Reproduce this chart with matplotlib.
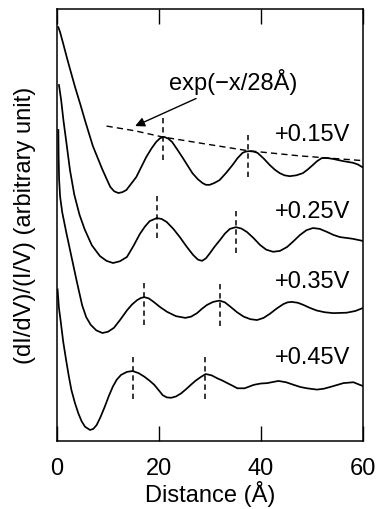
import numpy as np
import matplotlib.pyplot as plt

plt.rcParams['font.family'] = ['Liberation Sans', 'DejaVu Sans']

# distance (Angstrom) and normalized conductance (arbitrary units, offset per bias)
x_015 = [0.24, 0.6, 1.06, 1.6, 2.09, 2.8, 3.51, 4.54, 5.58, 7.01, 8.83, 9.7, 10.44,
         11.2, 12.02, 12.8, 13.59, 15.53, 17.47, 18.5, 19.41, 20.2, 20.98, 21.8, 22.57,
         23.5, 24.56, 26.54, 27.6, 28.53, 29.2, 29.91, 30.8, 31.87, 33.1, 34.41, 35.4,
         36.37, 37.0, 37.74, 38.5, 39.31, 40.5, 41.69, 42.7, 43.66, 44.6, 45.63, 46.9,
         48.19, 49.2, 50.16, 51.0, 51.92, 53.0, 54.09, 56.06, 58.03, 59.0, 60.0]
y_015 = [95.8, 94.6, 92.6, 90.2, 88.0, 85.0, 82.0, 78.0, 73.8, 68.3, 63.0, 60.7, 58.8,
         57.8, 57.4, 57.6, 58.1, 61.1, 65.7, 67.7, 69.2, 70.1, 70.4, 70.0, 69.2,
         67.6, 65.7, 62.0, 60.6, 59.7, 59.3, 59.3, 59.7, 60.4, 62.0, 63.9, 65.5,
         66.7, 67.0, 67.1, 67.0, 66.7, 65.4, 63.9, 62.8, 62.0, 61.5, 61.3, 61.5,
         62.0, 62.9, 63.9, 64.8, 65.5, 65.5, 65.3, 64.8, 64.4, 64.0, 63.3]

x_025 = [0.37, 0.80, 1.24, 1.89, 2.53, 3.38, 4.39, 5.41, 6.82, 8.41, 9.7, 10.97, 12.3,
         13.70, 15.0, 16.22, 17.2, 18.16, 19.53, 20.5, 21.49, 22.8, 24.07, 25.4, 26.65,
         27.6, 28.43, 29.2, 29.98, 30.9, 31.93, 32.9, 33.88, 35.05, 36.1, 37.21, 38.5,
         39.78, 41.0, 42.35, 43.7, 45.09, 46.4, 47.64, 48.9, 50.18, 51.5, 52.92, 54.2,
         55.48, 56.8, 58.02, 60.0]
y_025 = [82.4, 78.9, 74.3, 68.5, 62.7, 57.0, 52.4, 49.0, 45.3, 42.8, 41.7, 41.2, 41.6,
         42.6, 45.2, 47.9, 49.6, 50.9, 51.6, 51.4, 50.7, 49.1, 47.2, 45.0, 43.1,
         42.0, 41.7, 42.3, 43.5, 45.0, 46.5, 48.0, 49.1, 49.5, 49.2, 48.4, 47.0,
         45.4, 44.3, 43.8, 44.0, 44.9, 46.3, 47.7, 48.8, 49.3, 49.1, 48.4, 47.7,
         47.2, 47.0, 46.8, 46.3]

x_035 = [0.25, 0.30, 0.40, 0.6, 1.0, 1.8, 2.49, 3.16, 3.89, 4.92, 5.7, 6.59, 7.7, 8.89,
         10.0, 11.15, 12.4, 13.74, 14.7, 15.68, 16.4, 17.10, 18.0, 18.94, 20.2, 21.57,
         23.3, 25.16, 26.3, 27.45, 28.4, 29.40, 30.6, 31.86, 32.9, 33.97, 35.3, 36.57,
         37.9, 39.21, 40.5, 41.79, 43.1, 44.38, 45.2, 46.02, 47.2, 48.31, 49.6, 50.93,
         52.5, 54.18, 56.80, 58.5, 60.0]
y_035 = [72.0, 66.0, 60.5, 56.5, 53.0, 48.3, 44.5, 40.8, 36.8, 31.4, 28.7, 26.9, 25.6, 25.0,
         25.3, 26.2, 28.1, 30.3, 31.6, 32.6, 33.1, 33.3, 33.0, 32.2, 31.0, 29.9,
         28.9, 28.5, 28.8, 29.6, 30.6, 31.5, 32.2, 32.5, 32.1, 31.1, 29.8, 28.8,
         28.2, 28.0, 28.5, 29.5, 30.7, 31.7, 32.1, 32.2, 32.0, 31.5, 30.8, 30.2,
         29.8, 29.6, 29.7, 30.1, 30.8]

x_045 = [0.10, 0.35, 0.70, 1.2, 1.77, 2.3, 2.81, 3.5, 4.17, 4.8, 5.48, 6.46, 7.1, 7.76,
         8.5, 9.34, 10.14, 10.94, 11.7, 12.54, 13.7, 14.82, 16.0, 17.10, 18.1, 19.06,
         19.9, 20.72, 21.5, 22.35, 23.3, 24.29, 25.3, 26.23, 27.2, 28.17, 29.14, 30.3,
         31.43, 32.4, 33.39, 34.4, 35.35, 36.77, 38.58, 39.9, 41.20, 43.40, 44.9, 46.39,
         47.7, 49.00, 50.96, 52.3, 53.55, 56.15, 58.11, 60.0]
y_045 = [35.1, 31.0, 27.8, 23.0, 18.75, 15.0, 11.8, 8.8, 6.4, 4.6, 3.3, 2.55, 2.8, 3.7,
         5.5, 7.9, 10.4, 12.6, 14.2, 15.3, 16.0, 16.2, 15.7, 14.9, 14.0, 13.0,
         11.8, 10.6, 10.1, 10.0, 10.3, 11.0, 12.0, 13.0, 14.0, 14.8, 15.5, 15.2,
         14.5, 14.0, 13.4, 12.8, 12.2, 12.2, 13.0, 13.3, 13.4, 13.9, 13.6, 13.0,
         12.5, 12.2, 11.9, 12.1, 12.5, 13.4, 13.6, 12.7]

# peak positions marked with short dashed bars
peaks_015 = ([20.8, 37.4], [70.1, 66.1])
peaks_025 = ([19.5, 35.1], [51.9, 48.6])
peaks_035 = ([17.1, 31.9], [31.9, 31.7])
peaks_045 = ([14.8, 29.1], [14.7, 14.8])

# exp(-x/28A) envelope through the +0.15V peaks
env_x = [9.7, 15.3, 20.6, 28.9, 37.4, 47.6, 60.0]
env_y = [72.9, 71.8, 70.4, 68.8, 67.2, 66.0, 64.9]

bias_labels = ['+0.15V', '+0.25V', '+0.35V', '+0.45V']
label_y = [70.9, 52.9, 36.7, 19.1]

curves = [(x_015, y_015), (x_025, y_025), (x_035, y_035), (x_045, y_045)]
peaks = [peaks_015, peaks_025, peaks_035, peaks_045]

fig = plt.figure(figsize=(3.78, 5.09), dpi=100)
ax = fig.add_axes([0.151, 0.1336, 0.8095, 0.8487])

for (cx, cy), (px, py) in zip(curves, peaks):
    ax.plot(cx, cy, color='black', lw=1.25, solid_joinstyle='round')
    for xp, yp in zip(px, py):
        ax.plot([xp, xp], [yp - 5.0, yp + 5.0], color='black', lw=1.1,
                dashes=(3.5, 2.5))

ax.plot(env_x, env_y, color='black', lw=1.0, dashes=(4.5, 3))

for lab, ly in zip(bias_labels, label_y):
    ax.text(57.5, ly, lab, ha='right', va='center', fontsize=17)

ax.annotate('exp(\u2212x/28\u00c5)', xy=(15.3, 72.9), xytext=(22.0, 83.2),
            ha='left', va='center', fontsize=17,
            arrowprops=dict(arrowstyle='-|>', color='black', lw=1.0,
                            mutation_scale=14, shrinkA=2, shrinkB=0))

ax.set_xlim(0, 60)
ax.set_ylim(0, 100)
ax.set_xticks([0, 20, 40, 60])
ax.set_yticks([])
ax.tick_params(axis='x', direction='in', top=True, length=11, width=1.0,
               labelsize=17, pad=12)
for sp in ax.spines.values():
    sp.set_linewidth(1.1)

ax.set_xlabel('Distance (\u00c5)', fontsize=17, labelpad=1)
ax.set_ylabel('(dI/dV)/(I/V) (arbitrary unit)', fontsize=17, labelpad=15)

fig.savefig('out.png', dpi=100)
